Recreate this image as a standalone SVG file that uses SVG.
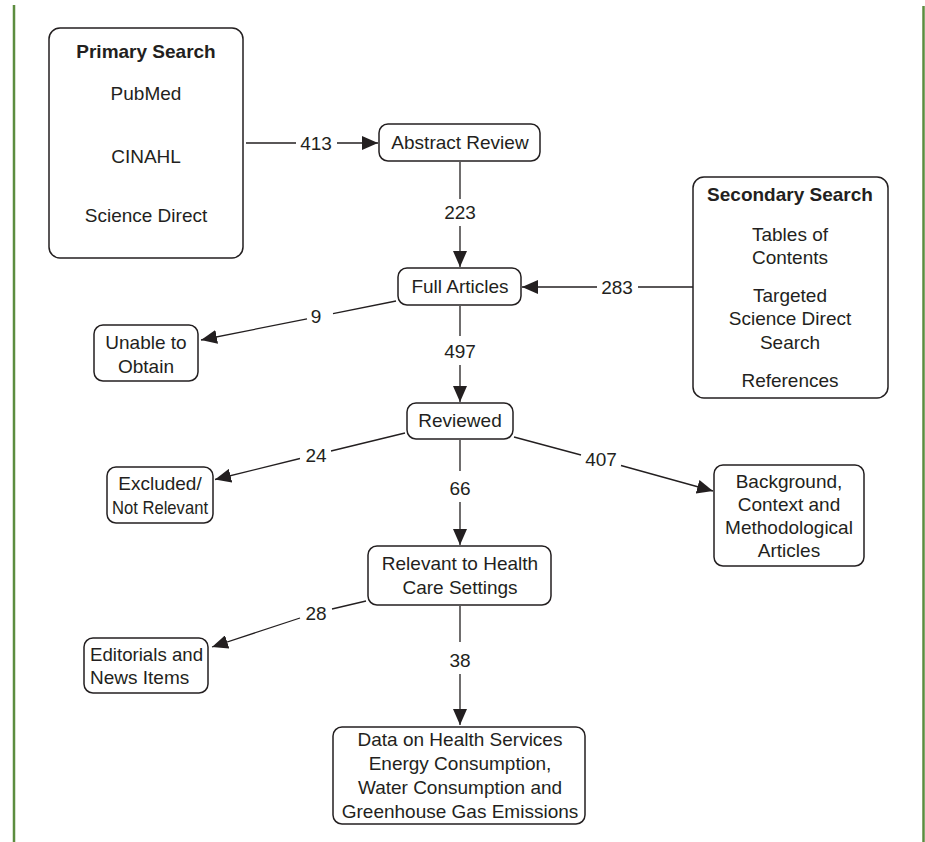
<svg xmlns="http://www.w3.org/2000/svg" width="925" height="842" viewBox="0 0 925 842">
<defs>
<style>
.box{fill:#fff;stroke:#231f20;stroke-width:1.5}
.t{font-family:"Liberation Sans",Arial,sans-serif;font-size:19px;fill:#231f20;text-anchor:middle}
.b{font-weight:bold}
.l{text-anchor:start}
.c{stroke:#231f20;stroke-width:1.3;fill:none}
.a{marker-end:url(#ah)}
.g{stroke:#5c8d3f;stroke-width:2.5}
</style>
<marker id="ah" viewBox="0 0 16 14" refX="16" refY="7" markerWidth="16" markerHeight="14" markerUnits="userSpaceOnUse" orient="auto">
<path d="M0,0 L16,7 L0,14 z" fill="#231f20"/>
</marker>
</defs>
<rect width="925" height="842" fill="#fff"/>
<line class="g" x1="14" y1="5" x2="14" y2="842"/>
<line class="g" x1="923.5" y1="6" x2="923.5" y2="842"/>

<g id="connectors">
<line class="c" x1="246" y1="143" x2="296" y2="143"/>
<line class="c a" x1="337" y1="143" x2="378" y2="143"/>
<text class="t" x="316" y="150">413</text>

<line class="c" x1="460" y1="162" x2="460" y2="199"/>
<line class="c a" x1="460" y1="226" x2="460" y2="267"/>
<text class="t" x="460" y="219">223</text>

<line class="c" x1="693" y1="287" x2="638" y2="287"/>
<line class="c a" x1="597" y1="287" x2="522" y2="287"/>
<text class="t" x="617" y="294">283</text>

<line class="c" x1="396" y1="301" x2="333" y2="313.7"/>
<line class="c a" x1="307" y1="318.9" x2="201" y2="340"/>
<text class="t" x="316" y="323">9</text>

<line class="c" x1="460" y1="306" x2="460" y2="336"/>
<line class="c a" x1="460" y1="365" x2="460" y2="402"/>
<text class="t" x="460" y="358">497</text>

<line class="c" x1="405" y1="433" x2="331" y2="451"/>
<line class="c a" x1="300" y1="458.5" x2="215" y2="479.5"/>
<text class="t" x="316" y="462">24</text>

<line class="c" x1="460" y1="440" x2="460" y2="471"/>
<line class="c a" x1="460" y1="502" x2="460" y2="545"/>
<text class="t" x="460" y="495">66</text>

<line class="c" x1="514" y1="437" x2="581" y2="455"/>
<line class="c a" x1="621" y1="465.5" x2="713" y2="491"/>
<text class="t" x="601" y="466">407</text>

<line class="c" x1="366" y1="601" x2="332" y2="609"/>
<line class="c a" x1="300" y1="618" x2="212" y2="647"/>
<text class="t" x="316" y="620">28</text>

<line class="c" x1="460" y1="606" x2="460" y2="642"/>
<line class="c a" x1="460" y1="674" x2="460" y2="725"/>
<text class="t" x="460" y="667">38</text>
</g>

<g id="primary">
<rect class="box" x="49" y="28" width="194" height="230" rx="11"/>
<text class="t b" x="146" y="58">Primary Search</text>
<text class="t" x="146" y="100">PubMed</text>
<text class="t" x="146" y="163">CINAHL</text>
<text class="t" x="146" y="222">Science Direct</text>
</g>

<g id="abstract">
<rect class="box" x="379" y="124" width="161" height="37" rx="9"/>
<text class="t" x="460" y="149">Abstract Review</text>
</g>

<g id="secondary">
<rect class="box" x="693" y="177" width="195" height="221" rx="11"/>
<text class="t b" x="790" y="201">Secondary Search</text>
<text class="t" x="790" y="241">Tables of</text>
<text class="t" x="790" y="264">Contents</text>
<text class="t" x="790" y="302">Targeted</text>
<text class="t" x="790" y="325">Science Direct</text>
<text class="t" x="790" y="349">Search</text>
<text class="t" x="790" y="387">References</text>
</g>

<g id="full">
<rect class="box" x="398" y="268" width="123" height="37" rx="9"/>
<text class="t" x="460" y="293">Full Articles</text>
</g>

<g id="unable">
<rect class="box" x="94" y="325" width="104" height="56" rx="9"/>
<text class="t" x="146" y="349">Unable to</text>
<text class="t" x="146" y="373">Obtain</text>
</g>

<g id="reviewed">
<rect class="box" x="407" y="403" width="106" height="36" rx="9"/>
<text class="t" x="460" y="427">Reviewed</text>
</g>

<g id="excluded">
<rect class="box" x="107" y="467" width="106" height="56" rx="9"/>
<text class="t" x="160" y="490">Excluded/</text>
<text class="t" x="160" y="514" textLength="96" lengthAdjust="spacingAndGlyphs">Not Relevant</text>
</g>

<g id="background">
<rect class="box" x="714" y="465" width="150" height="101" rx="9"/>
<text class="t" x="789" y="488">Background,</text>
<text class="t" x="789" y="511">Context and</text>
<text class="t" x="789" y="534">Methodological</text>
<text class="t" x="789" y="557">Articles</text>
</g>

<g id="relevant">
<rect class="box" x="368" y="546" width="183" height="59" rx="9"/>
<text class="t" x="460" y="570">Relevant to Health</text>
<text class="t" x="460" y="594">Care Settings</text>
</g>

<g id="editorials">
<rect class="box" x="84" y="638" width="124" height="55" rx="9"/>
<text class="t l" x="90" y="661" textLength="113" lengthAdjust="spacingAndGlyphs">Editorials and</text>
<text class="t l" x="90" y="684">News Items</text>
</g>

<g id="data">
<rect class="box" x="333" y="727" width="252" height="97" rx="9"/>
<text class="t" x="460" y="746">Data on Health Services</text>
<text class="t" x="460" y="770">Energy Consumption,</text>
<text class="t" x="460" y="794">Water Consumption and</text>
<text class="t" x="460" y="818">Greenhouse Gas Emissions</text>
</g>
</svg>
